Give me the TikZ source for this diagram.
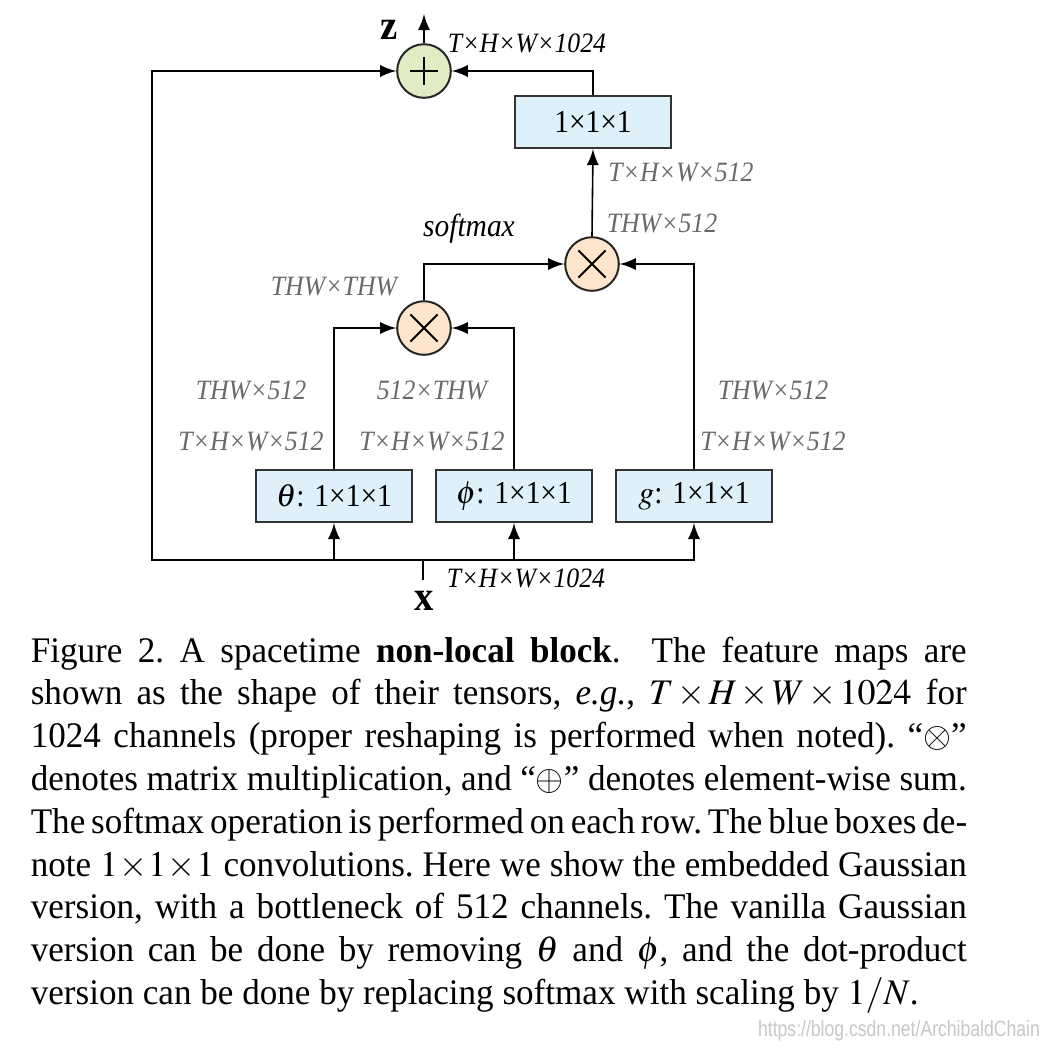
\documentclass[tikz,border=0pt]{standalone}
\usepackage{mathptmx}
\usepackage{fontspec}
\setmainfont[FakeStretch=0.92]{Liberation Serif}
\newfontfamily\capfont[FakeStretch=0.975,Ligatures=TeX]{Liberation Serif}
\newfontfamily\wmfont{Liberation Sans}
\definecolor{boxblue}{RGB}{222,240,250}
\definecolor{sumgreen}{RGB}{226,236,196}
\definecolor{mulpeach}{RGB}{253,229,204}
\definecolor{dimgray}{RGB}{105,105,105}
\newcommand\capline[1]{\hbox to 234pt{#1}}
\begin{document}
\begin{tikzpicture}[x=0.25pt,y=-0.25pt]
    \tikzset{conv/.style={draw=black!80,line width=0.55pt,fill=boxblue,minimum width=39pt,minimum height=13pt,inner sep=0pt,font=\fontsize{8}{9}\selectfont},
        op/.style={circle,draw=black!85,line width=0.5pt,minimum size=13.4pt,inner sep=0pt},
        wire/.style={line width=0.4pt},
        dimlabel/.style={font=\fontsize{7}{8}\selectfont\itshape,text=dimgray,inner sep=0pt},
        tenslabel/.style={font=\fontsize{7}{8}\selectfont\itshape,inner sep=0pt}};
    \useasboundingbox (0,0) rectangle (1046,1052);
    % operators
    \node[op,fill=sumgreen] (sum) at (424,71) {};
    \node[op,fill=mulpeach] (att) at (592,264) {};
    \node[op,fill=mulpeach] (mul) at (424,328) {};
    \draw[line width=0.5pt] (sum.center) +(-3.4pt,0) -- +(3.4pt,0) (sum.center) +(0,-3.4pt) -- +(0,3.4pt);
    \draw[line width=0.5pt] (att.center) +(-3.4pt,-3.4pt) -- +(3.4pt,3.4pt) (att.center) +(-3.4pt,3.4pt) -- +(3.4pt,-3.4pt);
    \draw[line width=0.5pt] (mul.center) +(-3.4pt,-3.4pt) -- +(3.4pt,3.4pt) (mul.center) +(-3.4pt,3.4pt) -- +(3.4pt,-3.4pt);
    % 1x1x1 convolutions
    \node[conv] (out) at (593,122) {1×1×1};
    \node[conv] (theta) at (334,496) {$\theta$: 1×1×1};
    \node[conv] (phi) at (514,496) {$\phi$: 1×1×1};
    \node[conv] (g) at (694,496) {$g$: 1×1×1};
    \coordinate (xin) at (423,580);
    \coordinate (split) at (423,560);
    \coordinate (skip) at (152,560);
    \coordinate (zout) at (424,14);
    % connectors
    \draw[wire] (xin) -- (split);
    \draw[wire,-latex] (split) -| (theta.south);
    \draw[wire,-latex] (split) -| (phi.south);
    \draw[wire,-latex] (split) -| (g.south);
    \draw[wire,-latex] (split) -- (skip) |- (sum.west);
    \draw[wire,-latex] (theta.north) |- (mul.west);
    \draw[wire,-latex] (phi.north) |- (mul.east);
    \draw[wire,-latex] (mul.north) |- (att.west);
    \draw[wire,-latex] (g.north) |- (att.east);
    \draw[wire,-latex] (att.north) -- (out.south);
    \draw[wire,-latex] (out.north) |- (sum.east);
    \draw[wire,-latex] (sum.north) -- (zout);
    % labels
    \node[font=\fontsize{10.5}{12}\selectfont\bfseries] (zlab) at (389,30) {z};
    \node[font=\fontsize{10.5}{12}\selectfont\bfseries] (xlab) at (424,601) {x};
    \node[tenslabel] (ztens) at (527,43) {T×H×W×1024};
    \node[tenslabel] (xtens) at (526,578) {T×H×W×1024};
    \node[tenslabel,font=\fontsize{8}{9}\selectfont\itshape] (smax) at (469,229) {softmax};
    \node[dimlabel] (outa) at (681,172) {T×H×W×512};
    \node[dimlabel] (outb) at (662,223) {THW×512};
    \node[dimlabel] (affin) at (334,287) {THW×THW};
    \node[dimlabel] (thetaa) at (251,390) {THW×512};
    \node[dimlabel] (phia) at (432,390) {512×THW};
    \node[dimlabel] (ga) at (773,390) {THW×512};
    \node[dimlabel] (thetab) at (251,441) {T×H×W×512};
    \node[dimlabel] (phib) at (432,441) {T×H×W×512};
    \node[dimlabel] (gb) at (773,441) {T×H×W×512};
    % caption
    \node[anchor=north west,inner sep=0pt,align=left,font=\capfont\fontsize{9}{10.7}\selectfont\frenchspacing] (caption) at (30,636) {%
        \spaceskip=.25em plus .3em minus .12em\relax
        \capline{Figure 2. A spacetime \textbf{non-local block}.\ \ The feature maps are}\\
        \capline{shown as the shape of their tensors, \emph{e.g.}, $T\!\times\! H\!\times\! W\!\times\! 1024$ for}\\
        \capline{1024 channels (proper reshaping is performed when noted). “$\otimes$”}\\
        \capline{denotes matrix multiplication, and “$\oplus$” denotes element-wise sum.}\\
        \capline{The softmax operation is performed on each row. The blue boxes de-}\\
        \capline{note $1\!\times\! 1\!\times\! 1$ convolutions. Here we show the embedded Gaussian}\\
        \capline{version, with a bottleneck of 512 channels. The vanilla Gaussian}\\
        \capline{version can be done by removing $\theta$ and $\phi$, and the dot-product}\\
        version can be done by replacing softmax with scaling by $1/N$.};
    \node[font=\wmfont\fontsize{5.5}{6}\selectfont,text=black!22,xscale=0.8,inner sep=0pt] (wmark) at (899,1031) {https://blog.csdn.net/ArchibaldChain};
\end{tikzpicture}
\end{document}
